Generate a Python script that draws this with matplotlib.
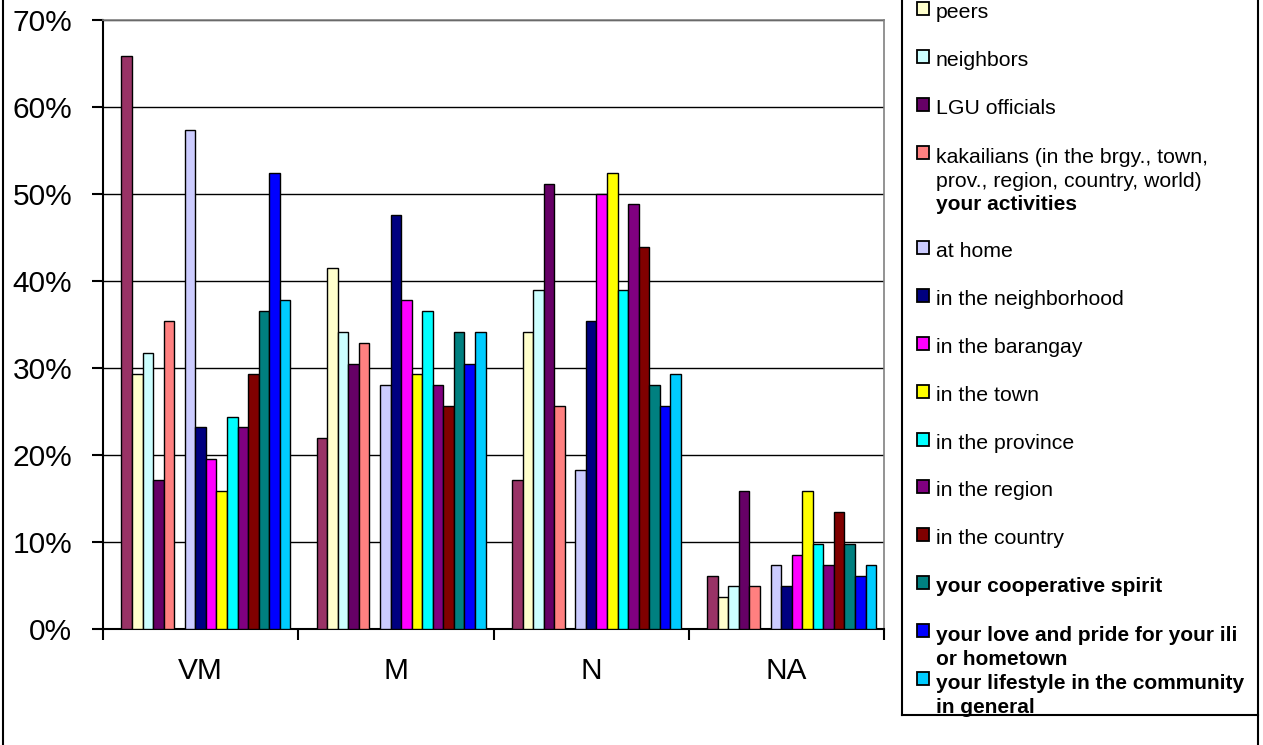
import numpy as np
import matplotlib.pyplot as plt
from matplotlib.patches import Rectangle
from matplotlib.lines import Line2D

plt.rcParams['font.family'] = ['Liberation Sans', 'DejaVu Sans']

W, H = 1263, 745

categories = ["VM", "M", "N", "NA"]

# one entry per series, in legend order (first two rows sit above the visible area)
labels = [
    "",
    "",
    "peers",
    "neighbors",
    "LGU officials",
    "kakailians (in the brgy., town,\nprov., region, country, world)",
    "your activities",
    "at home",
    "in the neighborhood",
    "in the barangay",
    "in the town",
    "in the province",
    "in the region",
    "in the country",
    "your cooperative spirit",
    "your love and pride for your ili\nor hometown",
    "your lifestyle in the community\nin general",
]
bold = [True, False, False, False, False, False, True, False, False, False,
        False, False, False, False, True, True, True]
colors = ["#FFFFFF", "#993366", "#FFFFCC", "#CCFFFF", "#660066", "#FF8080",
          "#FFFFFF", "#CCCCFF", "#000080", "#FF00FF", "#FFFF00", "#00FFFF",
          "#800080", "#800000", "#008080", "#0000FF", "#00CCFF"]

nan = np.nan
values = [
    [nan, nan, nan, nan],
    [65.9, 22.0, 17.1, 6.1],
    [29.3, 41.5, 34.1, 3.7],
    [31.7, 34.1, 39.0, 4.9],
    [17.1, 30.5, 51.2, 15.9],
    [35.4, 32.9, 25.6, 4.9],
    [nan, nan, nan, nan],
    [57.3, 28.0, 18.3, 7.3],
    [23.2, 47.6, 35.4, 4.9],
    [19.5, 37.8, 50.0, 8.5],
    [15.9, 29.3, 52.4, 15.9],
    [24.4, 36.6, 39.0, 9.8],
    [23.2, 28.0, 48.8, 7.3],
    [29.3, 25.6, 43.9, 13.4],
    [36.6, 34.1, 28.0, 9.8],
    [52.4, 30.5, 25.6, 6.1],
    [37.8, 34.1, 29.3, 7.3],
]

fig = plt.figure(figsize=(W / 100, H / 100), dpi=100)
ax = fig.add_axes([103 / W, 1 - 629 / H, (884 - 103) / W, (629 - 20) / H])

n = len(values)
w = 1 / (n + 1.5)
x = np.arange(len(categories))
for i, vals in enumerate(values):
    vals = np.array(vals, dtype=float)
    if np.all(np.isnan(vals)):
        continue
    ax.bar(x + (i - (n - 1) / 2) * w, vals, w, color=colors[i],
           edgecolor='black', linewidth=1.0, zorder=3)

ax.set_xlim(-0.5, len(categories) - 0.5)
ax.set_ylim(0, 70)
ax.set_yticks(range(0, 71, 10))
ax.set_yticklabels([f"{v}%" for v in range(0, 71, 10)])
ax.yaxis.grid(True, color='black', linewidth=1.0)
ax.set_axisbelow(True)

ax.set_xticks(np.arange(-0.5, len(categories), 1.0))
ax.set_xticklabels([])
ax.set_xticks(x, minor=True)
ax.set_xticklabels(categories, minor=True)
ax.tick_params(axis='x', which='major', length=8, width=1.5, color='black')
ax.tick_params(axis='x', which='minor', length=0, pad=20, labelsize=21.5)
ax.tick_params(axis='y', length=8, width=1.5, pad=14, labelsize=21.5)

for s in ['left', 'bottom']:
    ax.spines[s].set_color('black')
    ax.spines[s].set_linewidth(1.5)
for s in ['top', 'right']:
    ax.spines[s].set_color('#808080')
    ax.spines[s].set_linewidth(1.2)


def fx(px):
    return px / W


def fy(py):
    return 1 - py / H


# outer chart border (only the sides fall inside the image)
fig.add_artist(Line2D([fx(3), fx(3)], [0, 1], color='black', lw=1.5))
fig.add_artist(Line2D([fx(1258), fx(1258)], [0, 1], color='black', lw=1.5))

# legend box
fig.add_artist(Line2D([fx(902), fx(902)], [fy(715), 1], color='black', lw=1.5))
fig.add_artist(Line2D([fx(902), fx(1258)], [fy(715), fy(715)], color='black', lw=1.5))

row0 = 106.5 - 4 * 47.8
line_px = 25
for i, lab in enumerate(labels):
    yc = row0 + i * 47.8
    if yc < 0 or lab == "":
        continue
    has_bar = not np.all(np.isnan(np.array(values[i], dtype=float)))
    if has_bar:
        fig.add_artist(Rectangle((fx(917), fy(yc + 4.5)), 12 / W, 13 / H,
                                 transform=fig.transFigure, facecolor=colors[i],
                                 edgecolor='black', linewidth=1.3))
    extra = lab.count("\n") * line_px
    fig.text(fx(936), fy(yc + 7.5 + extra), lab,
             fontsize=15.0 if bold[i] else 15.3, va='baseline',
             ha='left', fontweight='bold' if bold[i] else 'normal',
             linespacing=1.3)

fig.savefig('out.png', dpi=100)
